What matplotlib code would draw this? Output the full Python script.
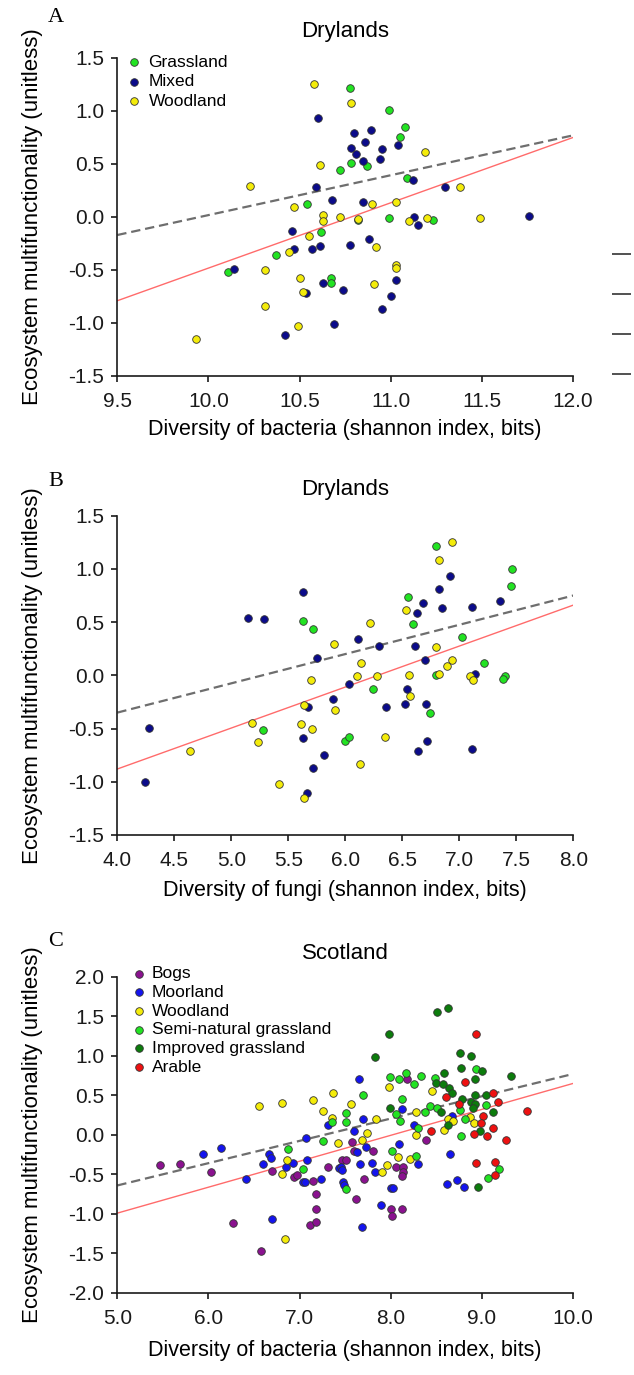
import numpy as np
import matplotlib
matplotlib.use('Agg')
import matplotlib.pyplot as plt
from matplotlib.ticker import FormatStrFormatter

plt.rcParams['font.family'] = ['Liberation Sans', 'DejaVu Sans']

# ---- panel A: drylands, bacteria ----
a_grass_x = [10.775, 10.99, 11.08, 11.05, 10.78, 10.87, 10.72, 10.54, 11.09, 10.82, 10.99, 11.23,
             10.62, 10.37, 10.11, 10.67, 10.67]
a_grass_y = [1.22, 1.01, 0.85, 0.75, 0.51, 0.48, 0.44, 0.12, 0.37, -0.03, -0.01, -0.03,
             -0.14, -0.36, -0.52, -0.58, -0.62]
a_mixed_x = [10.60, 10.59, 10.68, 10.80, 10.89, 10.86, 10.78, 10.81, 10.95, 11.04, 10.94, 10.85,
             11.12, 11.30, 10.85, 11.13, 11.15, 11.76, 10.88, 10.46, 10.775, 10.61, 10.57, 10.47,
             10.14, 10.63, 10.74, 10.535, 10.69, 10.42, 11.03, 11.00, 10.95]
a_mixed_y = [0.93, 0.28, 0.16, 0.79, 0.82, 0.71, 0.65, 0.59, 0.64, 0.68, 0.55, 0.53,
             0.35, 0.28, 0.14, 0.00, -0.08, 0.01, -0.21, -0.13, -0.26, -0.27, -0.30, -0.30,
             -0.49, -0.62, -0.69, -0.72, -1.01, -1.11, -0.59, -0.75, -0.87]
a_wood_x = [10.23, 10.58, 10.61, 10.78, 11.19, 10.47, 10.63, 10.63, 10.72, 10.55, 11.38, 10.90,
            11.03, 10.82, 11.10, 11.20, 11.49, 10.44, 10.31, 10.50, 10.52, 10.31, 10.49, 9.93,
            10.92, 11.03, 11.03, 10.91]
a_wood_y = [0.29, 1.25, 0.49, 1.08, 0.61, 0.09, 0.02, -0.04, 0.00, -0.18, 0.28, 0.12,
            0.14, -0.02, -0.04, -0.01, -0.01, -0.33, -0.50, -0.58, -0.71, -0.84, -1.03, -1.15,
            -0.28, -0.45, -0.48, -0.63]
a_fit_x = [9.5, 12.0]
a_fit_all = [-0.17, 0.77]
a_fit_sub = [-0.79, 0.75]

# ---- panel B: drylands, fungi ----
b_grass_x = [5.63, 5.72, 6.80, 7.46, 7.45, 6.55, 6.59, 7.02, 7.22, 6.80, 7.40, 7.38,
             6.24, 5.28, 6.74, 6.00, 6.03]
b_grass_y = [0.51, 0.44, 1.22, 1.00, 0.84, 0.74, 0.48, 0.36, 0.12, 0.00, -0.01, -0.03,
             -0.13, -0.51, -0.35, -0.62, -0.58]
b_mixed_x = [5.15, 5.29, 5.63, 5.75, 6.92, 6.82, 6.68, 6.63, 6.85, 7.11, 7.36, 6.11,
             6.30, 6.61, 6.70, 7.14, 6.03, 6.54, 5.89, 5.67, 5.63, 4.28, 4.24, 5.66,
             5.81, 5.72, 6.36, 6.52, 6.71, 6.72, 6.64, 7.11]
b_mixed_y = [0.54, 0.53, 0.78, 0.16, 0.93, 0.81, 0.68, 0.59, 0.63, 0.64, 0.70, 0.34,
             0.28, 0.28, 0.14, 0.01, -0.08, -0.13, -0.22, -0.30, -0.59, -0.49, -1.00, -1.11,
             -0.75, -0.87, -0.30, -0.27, -0.27, -0.62, -0.71, -0.69]
b_wood_x = [6.94, 6.82, 6.53, 6.22, 5.90, 6.80, 6.94, 6.89, 6.14, 6.10, 6.28, 6.56,
            6.82, 7.09, 7.12, 5.70, 5.91, 5.64, 5.18, 5.23, 5.61, 5.71, 4.64, 5.42,
            5.64, 6.57, 6.35, 6.13]
b_wood_y = [1.25, 1.08, 0.61, 0.49, 0.29, 0.27, 0.14, 0.09, 0.12, -0.01, -0.01, 0.00,
            0.01, -0.01, -0.04, -0.04, -0.33, -0.28, -0.45, -0.63, -0.46, -0.50, -0.71, -1.02,
            -1.15, -0.19, -0.58, -0.83]
b_fit_x = [4.0, 8.0]
b_fit_all = [-0.35, 0.75]
b_fit_sub = [-0.88, 0.66]

# ---- panel C: Scotland, bacteria ----
c_bog_x = [5.47, 5.69, 6.03, 6.27, 6.58, 6.70, 7.31, 6.94, 6.97, 7.15, 7.18, 7.18, 7.11, 7.18,
           8.18, 8.39, 7.58, 7.81, 7.60, 7.46, 7.51, 8.06, 8.13, 8.14, 8.12, 7.71, 7.62, 8.00,
           8.12, 8.01]
c_bog_y = [-0.38, -0.37, -0.47, -1.12, -1.47, -0.46, -0.41, -0.53, -0.51, -0.58, -0.75, -0.94,
           -1.14, -1.10, 0.71, -0.07, -0.09, -0.21, -0.21, -0.32, -0.32, -0.41, -0.41, -0.47,
           -0.52, -0.56, -0.81, -0.94, -0.94, -1.03]
c_moor_x = [5.94, 6.14, 6.41, 7.31, 7.07, 6.66, 6.69, 6.60, 6.93, 7.08, 6.85, 7.43, 7.04, 7.06,
            7.24, 6.70, 7.65, 8.12, 7.70, 8.67, 8.25, 7.60, 7.73, 7.63, 8.09, 8.30, 8.65, 7.45,
            7.46, 7.66, 7.80, 7.83, 7.48, 7.49, 8.00, 8.02, 8.62, 8.73, 8.80, 7.89, 7.68]
c_moor_y = [-0.24, -0.16, -0.56, 0.13, -0.04, -0.24, -0.29, -0.37, -0.36, -0.32, -0.41, -0.42,
            -0.60, -0.59, -0.56, -1.06, 0.71, 0.33, 0.20, 0.24, 0.12, 0.05, -0.15, -0.22, -0.11,
            -0.37, -0.24, -0.41, -0.44, -0.37, -0.35, -0.47, -0.60, -0.64, -0.67, -0.67, -0.62,
            -0.57, -0.66, -0.89, -1.16]
c_wood_x = [6.55, 6.81, 7.15, 7.37, 7.26, 7.36, 7.42, 6.86, 6.81, 6.84, 7.98, 8.45, 7.56, 7.84,
            8.28, 8.63, 8.68, 8.87, 8.91, 8.58, 8.28, 7.74, 7.69, 8.08, 8.21, 7.96, 7.90]
c_wood_y = [0.37, 0.40, 0.44, 0.53, 0.30, 0.21, -0.10, -0.32, -0.49, -1.32, 0.61, 0.55, 0.39,
            0.20, 0.29, 0.20, 0.18, 0.23, 0.15, 0.06, 0.00, 0.02, -0.06, -0.28, -0.30, -0.38,
            -0.47]
c_semi_x = [7.36, 7.26, 6.87, 7.04, 8.94, 7.99, 8.09, 8.17, 8.25, 8.33, 8.49, 7.70, 9.05, 8.12,
            8.06, 8.10, 7.51, 7.51, 8.38, 8.43, 8.51, 8.76, 8.82, 8.77, 8.30, 8.01, 8.28, 7.51,
            9.07, 9.19]
c_semi_y = [0.16, -0.08, -0.18, -0.43, 0.83, 0.73, 0.71, 0.78, 0.64, 0.75, 0.72, 0.51, 0.38,
            0.45, 0.26, 0.18, 0.28, 0.16, 0.29, 0.37, 0.34, 0.31, 0.20, -0.02, 0.09, -0.20,
            -0.27, -0.68, -0.54, -0.43]
c_impr_x = [8.51, 8.63, 7.98, 7.83, 8.76, 8.88, 8.77, 9.00, 9.32, 8.92, 8.59, 8.50, 8.57, 8.64,
            8.67, 8.93, 9.04, 8.78, 8.88, 8.93, 8.90, 9.12, 7.99, 8.55, 8.63, 8.98, 8.96]
c_impr_y = [1.55, 1.61, 1.27, 0.99, 1.03, 1.00, 0.85, 0.81, 0.75, 0.71, 0.78, 0.66, 0.64, 0.59,
            0.53, 0.51, 0.51, 0.45, 0.42, 0.39, 0.34, 0.29, 0.34, 0.29, 0.12, 0.05, -0.66]
c_arab_x = [8.94, 8.81, 9.12, 8.61, 9.18, 9.50, 8.75, 9.01, 8.99, 9.12, 8.91, 9.06, 9.27, 8.44,
            9.14, 9.14, 8.94]
c_arab_y = [1.27, 0.67, 0.53, 0.48, 0.42, 0.30, 0.39, 0.24, 0.15, 0.09, 0.01, -0.02, -0.07,
            0.05, -0.51, -0.34, -0.35]
c_fit_x = [5.0, 10.0]
c_fit_all = [-0.64, 0.77]
c_fit_sub = [-0.99, 0.65]

GREEN = '#22e322'
NAVY = '#0b0b8a'
YELLOW = '#f4ec0a'
PURPLE = '#8a128f'
BLUE = '#1414ee'
DKGREEN = '#0c7c0c'
RED = '#ee1111'

W, H = 634, 1375
fig = plt.figure(figsize=(W / 100, H / 100), dpi=100)


def make_axes(left, right, top, bottom):
    ax = fig.add_axes([left / W, 1 - bottom / H, (right - left) / W, (bottom - top) / H])
    for s in ['top', 'right']:
        ax.spines[s].set_visible(False)
    for s in ['left', 'bottom']:
        ax.spines[s].set_linewidth(1.2)
        ax.spines[s].set_color('#1a1a1a')
    ax.tick_params(direction='out', length=4, width=1.2, labelsize=15, pad=5.5, colors='#1a1a1a')
    ax.tick_params(axis='x', pad=7.5)
    ax.xaxis.set_major_formatter(FormatStrFormatter('%.1f'))
    ax.yaxis.set_major_formatter(FormatStrFormatter('%.1f'))
    return ax


def dots(ax, x, y, color, label):
    ax.scatter(x, y, s=30, c=color, edgecolors='#333333', linewidths=0.6,
               clip_on=False, zorder=3, label=label)


def fits(ax, fx, fall, fsub):
    ax.plot(fx, fall, color='#6e6e6e', lw=1.6, ls=(0, (4.2, 2.2)), zorder=1)
    ax.plot(fx, fsub, color='#ff6b6b', lw=1.0, zorder=1)


def labels(ax, title, xlab, tpad, xlab_y):
    ax.set_title(title, fontsize=16, pad=tpad)
    ax.set_xlabel(xlab, fontsize=15.5)
    ax.set_ylabel('Ecosystem multifunctionality (unitless)', fontsize=16)
    ax.xaxis.set_label_coords(0.5, xlab_y)
    ax.yaxis.set_label_coords(-0.163, 0.5)


# panel A
axA = make_axes(117.3, 573, 58, 376)
fits(axA, a_fit_x, a_fit_all, a_fit_sub)
dots(axA, a_grass_x, a_grass_y, GREEN, 'Grassland')
dots(axA, a_mixed_x, a_mixed_y, NAVY, 'Mixed')
dots(axA, a_wood_x, a_wood_y, YELLOW, 'Woodland')
axA.set_xlim(9.5, 12.0)
axA.set_ylim(-1.5, 1.5)
axA.set_xticks(np.arange(9.5, 12.01, 0.5))
axA.set_yticks(np.arange(-1.5, 1.51, 0.5))
labels(axA, 'Drylands', 'Diversity of bacteria (shannon index, bits)', 15, -0.135)
axA.legend(loc='upper left', bbox_to_anchor=(0.0226, 1.010), frameon=False, fontsize=12.5,
           borderpad=0, borderaxespad=0, handlelength=0.75, handletextpad=0.45,
           labelspacing=0.24, scatterpoints=1)

# panel B
axB = make_axes(117.3, 573.3, 515.7, 835)
fits(axB, b_fit_x, b_fit_all, b_fit_sub)
dots(axB, b_grass_x, b_grass_y, GREEN, 'Grassland')
dots(axB, b_mixed_x, b_mixed_y, NAVY, 'Mixed')
dots(axB, b_wood_x, b_wood_y, YELLOW, 'Woodland')
axB.set_xlim(4.0, 8.0)
axB.set_ylim(-1.5, 1.5)
axB.set_xticks(np.arange(4.0, 8.01, 0.5))
axB.set_yticks(np.arange(-1.5, 1.51, 0.5))
labels(axB, 'Drylands', 'Diversity of fungi (shannon index, bits)', 15, -0.14)

# panel C
axC = make_axes(117.3, 573, 976.7, 1293)
fits(axC, c_fit_x, c_fit_all, c_fit_sub)
dots(axC, c_bog_x, c_bog_y, PURPLE, 'Bogs')
dots(axC, c_moor_x, c_moor_y, BLUE, 'Moorland')
dots(axC, c_wood_x, c_wood_y, YELLOW, 'Woodland')
dots(axC, c_semi_x, c_semi_y, GREEN, 'Semi-natural grassland')
dots(axC, c_impr_x, c_impr_y, DKGREEN, 'Improved grassland')
dots(axC, c_arab_x, c_arab_y, RED, 'Arable')
axC.set_xlim(5.0, 10.0)
axC.set_ylim(-2.0, 2.0)
axC.set_xticks(np.arange(5.0, 10.01, 1.0))
axC.set_yticks(np.arange(-2.0, 2.01, 0.5))
labels(axC, 'Scotland', 'Diversity of bacteria (shannon index, bits)', 13, -0.15)
axC.legend(loc='upper left', bbox_to_anchor=(0.034, 1.033), frameon=False, fontsize=12.5,
           borderpad=0, borderaxespad=0, handlelength=0.75, handletextpad=0.35,
           labelspacing=0.2, scatterpoints=1)

# panel letters
for letter, ypix in [('A', 18), ('B', 481), ('C', 941)]:
    fig.text(48 / W, 1 - ypix / H, letter, fontsize=16, family='Liberation Serif',
             ha='left', va='center')

# cut-off ticks of the neighbouring panel at the right edge
axR = fig.add_axes([631 / W, 1 - 374.3 / H, 0.002, 120 / H])
axR.set_ylim(0, 3)
axR.set_yticks([0, 1, 2, 3])
axR.set_yticklabels([])
axR.set_xticks([])
for s in axR.spines.values():
    s.set_visible(False)
axR.tick_params(axis='y', direction='out', length=14, width=1.2, colors='#333333')

fig.savefig('out.png', dpi=100)
